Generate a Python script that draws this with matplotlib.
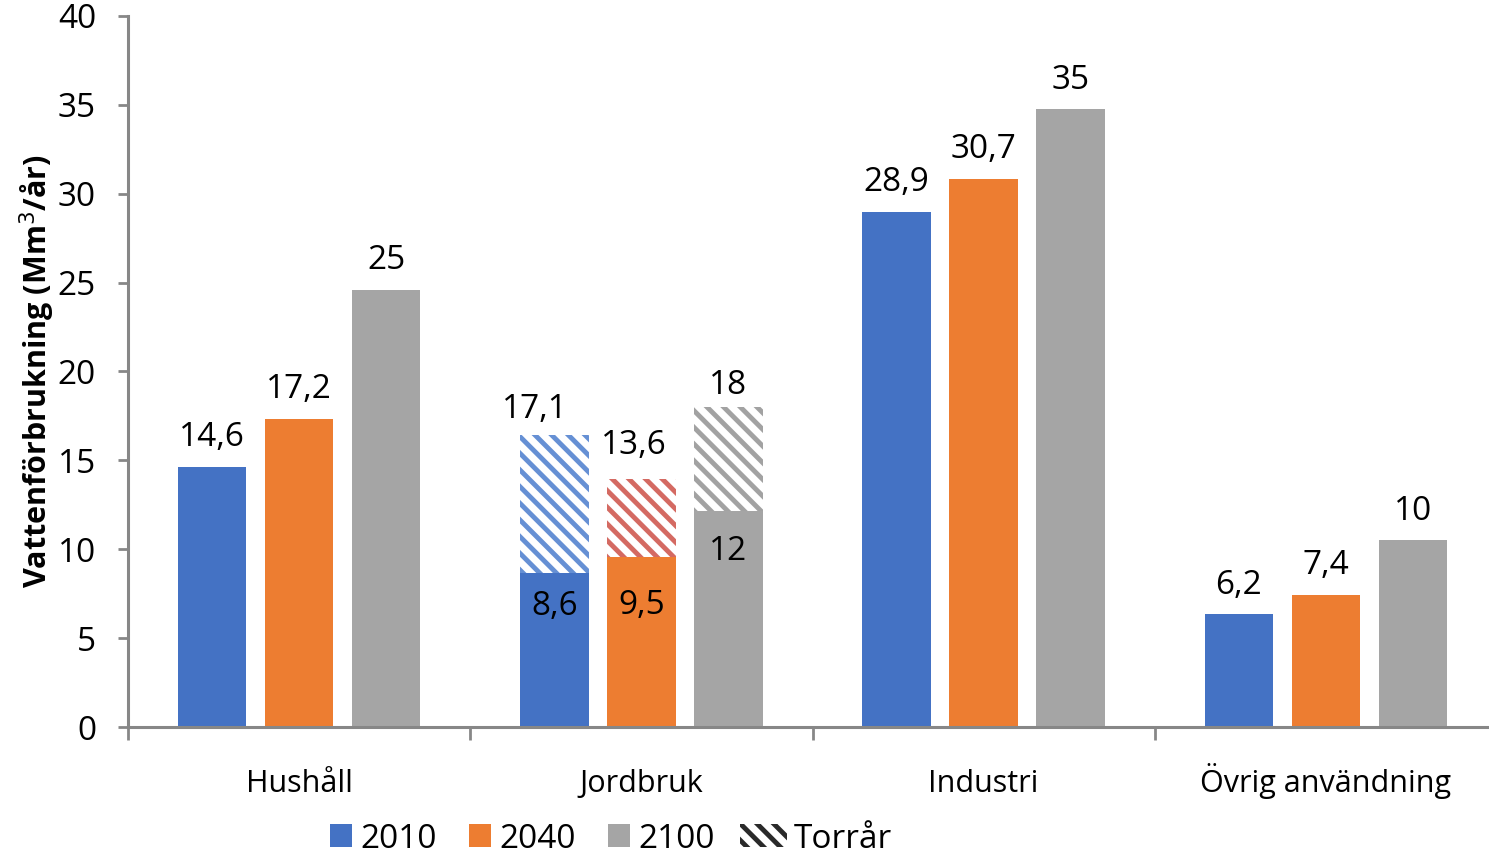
import numpy as np
import matplotlib
matplotlib.use("Agg")
import matplotlib.pyplot as plt
from matplotlib.patches import Patch

plt.rcParams['font.family'] = ['Open Sans', 'DejaVu Sans']
plt.rcParams['hatch.linewidth'] = 3.5

# data (bar tops as drawn, labels as printed)
categories = ["Hushåll", "Jordbruk", "Industri", "Övrig användning"]
years = ["2010", "2040", "2100"]
heights = {
    "2010": [14.65, 8.65, 29.0, 6.35],
    "2040": [17.35, 9.55, 30.85, 7.45],
    "2100": [24.6, 12.15, 34.75, 10.5],
}
labels = {
    "2010": ["14,6", "8,6", "28,9", "6,2"],
    "2040": ["17,2", "9,5", "30,7", "7,4"],
    "2100": ["25", "12", "35", "10"],
}
# dry-year totals for Jordbruk (hatched part on top of the normal bar)
dry_tops = [16.45, 13.95, 18.0]
dry_labels = ["17,1", "13,6", "18"]

colors = {"2010": "#4472C4", "2040": "#ED7D31", "2100": "#A5A5A5"}
hatch_colors = {"2010": "#6690D4", "2040": "#D46A62", "2100": "#A2A2A2"}

fig = plt.figure(figsize=(14.89, 8.58), dpi=100)
W, H = 1489, 858
ax = fig.add_axes([128 / W, 1 - 727 / H, 1369 / W, 711 / H])

x = np.arange(len(categories))
width = 0.2
offsets = [-0.254, 0.0, 0.254]
fs = 22   # category text
nfs = 24  # numbers

for k, yr in enumerate(years):
    xs = x + offsets[k]
    ax.bar(xs, heights[yr], width, color=colors[yr], linewidth=0)
    # dry-year extra part on Jordbruk
    base = heights[yr][1]
    ax.bar(xs[1], dry_tops[k] - base, width, bottom=base, facecolor="white",
           edgecolor=hatch_colors[yr], hatch="\\\\", linewidth=0)
    for i in range(len(categories)):
        if i == 1:
            continue
        ax.annotate(labels[yr][i], (xs[i], heights[yr][i]), xytext=(0, 29),
                    textcoords="offset pixels", ha="center", va="center", fontsize=nfs)

# Jordbruk labels (placed by hand like the reference)
jx = x[1] + np.array(offsets)
inside_off = [-33, -48, -40]
dry_off = [(-20, 25), (-8, 34), (0, 22)]
for k, yr in enumerate(years):
    ax.annotate(labels[yr][1], (jx[k], heights[yr][1]), xytext=(0, inside_off[k]),
                textcoords="offset pixels", ha="center", va="center", fontsize=nfs)
    ax.annotate(dry_labels[k], (jx[k], dry_tops[k]), xytext=dry_off[k],
                textcoords="offset pixels", ha="center", va="center", fontsize=nfs)

ax.set_xlim(-0.5, 3.5)
ax.set_ylim(0, 40)
ax.set_yticks(np.arange(0, 41, 5))
ax.set_xticks(x)
ax.set_xticklabels(categories)
ax.set_xticks(np.arange(-0.5, 3.6, 1), minor=True)
for lab in ax.get_xticklabels():
    lab.set_va("baseline")

spine_c = "#878787"
for s in ["top", "right"]:
    ax.spines[s].set_visible(False)
for s in ["left", "bottom"]:
    ax.spines[s].set_color(spine_c)
    ax.spines[s].set_linewidth(2.2)

ax.tick_params(axis="y", direction="out", length=7, width=2, color=spine_c,
               labelsize=nfs, pad=16)
ax.tick_params(axis="x", which="major", length=0, labelsize=fs, pad=47)
ax.tick_params(axis="x", which="minor", direction="out", length=9, width=2, color=spine_c)

ax.set_ylabel("Vattenförbrukning (Mm$^3$/år)", fontsize=22, fontweight="bold")
ax.yaxis.set_label_coords(-0.052, 0.5)

# legend in two parts: year squares, then the wider hatched dry-year patch
ly = 1 - 839 / H
handles = [Patch(facecolor=colors[yr], linewidth=0) for yr in years]
leg1 = fig.legend(handles, years, loc="center left", bbox_to_anchor=(330 / W, ly),
                  ncol=3, frameon=False, fontsize=nfs, handlelength=0.67,
                  handleheight=0.67, handletextpad=0.25, columnspacing=0.95,
                  borderpad=0, borderaxespad=0)
dry_handle = Patch(facecolor="white", edgecolor="#2a2a2a", hatch="\\\\", linewidth=0)
fig.legend([dry_handle], ["Torrår"], loc="center left", bbox_to_anchor=(740 / W, ly),
           frameon=False, fontsize=nfs, handlelength=1.42, handleheight=0.67,
           handletextpad=0.18, borderpad=0, borderaxespad=0)

fig.savefig("out.png", dpi=100)
